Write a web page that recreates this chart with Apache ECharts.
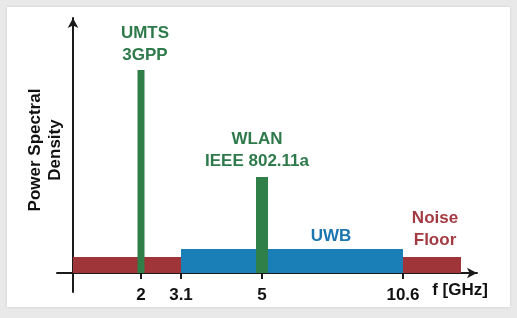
<!DOCTYPE html>
<html><head><meta charset="utf-8">
<script src="https://cdn.jsdelivr.net/npm/echarts@6/dist/echarts.min.js"></script>
<style>html,body{margin:0;padding:0;background:#e9e9e9}#c{width:517px;height:318px}</style>
</head><body><div id="c"></div>
<script>
// Schematic (non-linear) frequency axis: tick labels and their positions on it
const freqLabels = ['2', '3.1', '5', '10.6'];
const freqPos = [68, 108, 189, 330];

// Spectrum blocks (schematic axis units / relative PSD units)
const bandNames = ['Noise Floor', 'UWB', 'UMTS 3GPP', 'WLAN IEEE 802.11a'];
const bandStart = [0, 108, 64.5, 183];
const bandEnd = [388, 330, 71.5, 195];
const bandPSD = [16, 24, 203, 96];
const bandLabels = ['Noise\nFloor', 'UWB', 'UMTS\n3GPP', 'WLAN\nIEEE 802.11a'];

const FONT = '"Liberation Sans", Arial, Helvetica, sans-serif';
const barColors = ['#9f3539', '#1b7fb7', '#2f7f48', '#2f7f48'];
const textColors = ['#a43a42', '#1c76b0', '#2e7a4b', '#2e7a4b'];
// label anchor: ref = which x of the block ('center'|'end'), dx/dy pixel offsets from block top
const labelPlace = [
  {ref: 'end', dx: -26, dy: -6},
  {ref: 'end', dx: -72, dy: -2},
  {ref: 'center', dx: 4, dy: -4},
  {ref: 'center', dx: -5, dy: -5}
];

const chart = echarts.init(document.getElementById('c'), null, {renderer: 'canvas'});

const series = bandNames.map((name, i) => ({
  type: 'custom',
  name: name,
  z: 2 + i,
  data: [[bandStart[i], bandEnd[i], bandPSD[i]]],
  renderItem: function (params, api) {
    const p0 = api.coord([api.value(0), 0]);
    const p1 = api.coord([api.value(1), api.value(2)]);
    const lp = labelPlace[i];
    const ax = lp.ref === 'end' ? p1[0] : (p0[0] + p1[0]) / 2;
    return {
      type: 'group',
      children: [
        {type: 'rect', shape: {x: p0[0], y: p1[1], width: p1[0] - p0[0], height: p0[1] - p1[1]},
         style: {fill: barColors[i]}},
        {type: 'text', x: ax + lp.dx, y: p1[1] + lp.dy,
         style: {text: bandLabels[i], fill: textColors[i], fontFamily: FONT, fontWeight: 'bold',
                 fontSize: 17, lineHeight: 22, align: 'center', verticalAlign: 'bottom'}}
      ]
    };
  }
}));

chart.setOption({
  backgroundColor: '#e9e9e9',
  animation: false,
  graphic: [{type: 'rect', z: -10, shape: {x: 7, y: 7, width: 503, height: 300},
             style: {fill: '#ffffff', shadowBlur: 3, shadowColor: 'rgba(0,0,0,0.12)'}}],
  grid: {left: 57, right: 40, top: 18, bottom: 26, containLabel: false, outerBoundsMode: 'none'},
  xAxis: {
    type: 'value', min: -16, max: 404,
    name: 'f [GHz]', nameLocation: 'end', nameGap: -17,
    nameTextStyle: {fontFamily: FONT, fontWeight: 'bold', fontSize: 17, color: '#111',
                    align: 'center', verticalAlign: 'top', padding: [9, 0, 0, 0]},
    axisLine: {onZero: true, symbol: ['none', 'arrow'], symbolSize: [8, 10],
               lineStyle: {color: '#1a1a1a', width: 2}},
    axisTick: {show: true, customValues: freqPos, length: 6, lineStyle: {color: '#1a1a1a', width: 2}},
    axisLabel: {customValues: freqPos, margin: -5, color: '#111', fontFamily: FONT, fontWeight: 'bold', fontSize: 17,
                formatter: v => freqLabels[freqPos.indexOf(v)] || ''},
    splitLine: {show: false}
  },
  yAxis: {
    type: 'value', min: -19, max: 255,
    name: 'Power Spectral\nDensity', nameLocation: 'middle', nameRotate: 90, nameGap: -8,
    nameTextStyle: {fontFamily: FONT, fontWeight: 'bold', fontSize: 17, color: '#111', lineHeight: 20,
                    padding: [0, 0, 0, 10]},
    axisLine: {onZero: true, symbol: ['none', 'arrow'], symbolSize: [8, 10],
               lineStyle: {color: '#1a1a1a', width: 2}},
    axisTick: {show: false},
    axisLabel: {show: false},
    splitLine: {show: false}
  },
  series: series
});
</script></body></html>
